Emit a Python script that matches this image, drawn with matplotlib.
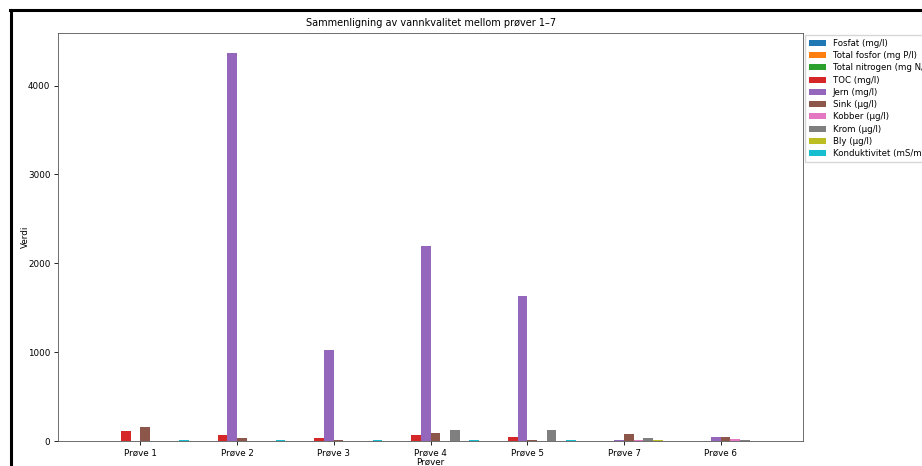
import numpy as np
import matplotlib
matplotlib.use("Agg")
import matplotlib.pyplot as plt
from matplotlib.lines import Line2D

# prøver i samme rekkefølge som i figuren
prover = ["Prøve 1", "Prøve 2", "Prøve 3", "Prøve 4", "Prøve 5", "Prøve 7", "Prøve 6"]

parametere = ["Fosfat (mg/l)", "Total fosfor (mg P/l)", "Total nitrogen (mg N/l)",
              "TOC (mg/l)", "Jern (mg/l)", "Sink (µg/l)", "Kobber (µg/l)",
              "Krom (µg/l)", "Bly (µg/l)", "Konduktivitet (mS/m)"]

fosfat = [2, 1, 1, 2, 1, 1, 1]
total_fosfor = [3, 1, 1, 2, 1, 1, 1]
total_nitrogen = [4, 4, 3, 5, 4, 4, 2]
toc = [115, 68, 35, 70, 45, 4, 5]
jern = [3, 4370, 1025, 2195, 1630, 15, 48]
sink = [155, 35, 15, 88, 15, 78, 48]
kobber = [4, 2, 2, 3, 3, 15, 20]
krom = [3, 2, 2, 125, 125, 30, 15]
bly = [3, 3, 3, 4, 3, 15, 4]
konduktivitet = [16, 8, 7, 16, 15, 5, 5]

serier = [fosfat, total_fosfor, total_nitrogen, toc, jern, sink,
          kobber, krom, bly, konduktivitet]

fig = plt.figure(figsize=(9.22, 4.66), dpi=100)
ax = fig.add_axes([0.063, 0.0536, 0.808, 0.875])

x = np.arange(len(prover))
bredde = 0.1
for i, (navn, verdier) in enumerate(zip(parametere, serier)):
    ax.bar(x + (i - 4.5) * bredde, verdier, bredde, label=navn)

ax.set_xticks(x)
ax.set_xticklabels(prover)
ax.set_yticks([0, 1000, 2000, 3000, 4000])
ax.tick_params(labelsize=6.3, length=3, width=0.6, pad=2.5)
ax.set_xlabel("Prøver", fontsize=6.3, labelpad=0)
ax.set_ylabel("Verdi", fontsize=6.3, labelpad=-1.5)
ax.set_title("Sammenligning av vannkvalitet mellom prøver 1–7", fontsize=7, pad=5)
for s in ax.spines.values():
    s.set_linewidth(0.6)
    s.set_color("#555555")

ax.legend(loc="upper left", bbox_to_anchor=(1.003, 0.995), fontsize=6.2,
          handlelength=2.0, labelspacing=0.38, borderaxespad=0.0,
          frameon=True, fancybox=False, edgecolor="#cccccc")

# svart ramme fra skjermbildet
fig.add_artist(Line2D([10.5 / 922, 10.5 / 922], [0, 1 - 10 / 466], color="black", lw=2.2))
fig.add_artist(Line2D([10 / 922, 1], [1 - 10 / 466, 1 - 10 / 466], color="black", lw=2.2))

fig.savefig("out.png", dpi=100)
